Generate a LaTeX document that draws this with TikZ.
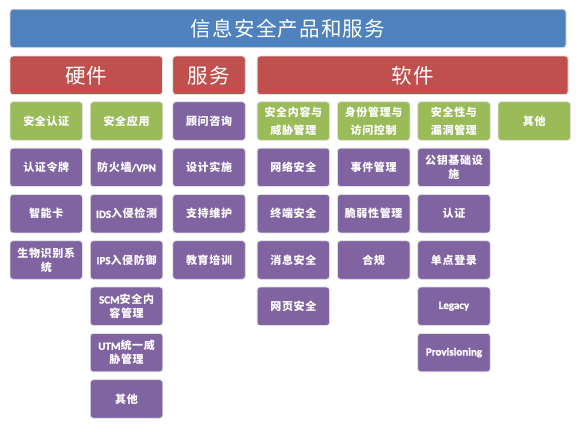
\documentclass[tikz,border=0pt]{standalone}
\usepackage{fontspec}
\setmainfont{Noto Sans CJK SC}[LetterSpace=6]
\newfontfamily\lat{Carlito}[BoldFeatures={FakeBold=1.2}]
\usetikzlibrary{positioning}

\definecolor{titleblue}{HTML}{4F81BD}
\definecolor{catred}{HTML}{C0504D}
\definecolor{headgreen}{HTML}{9BBB59}
\definecolor{itempurple}{HTML}{8064A2}

\newcommand{\en}[1]{{\lat\bfseries #1}}

\begin{document}
\begin{tikzpicture}[
    x=1pt, y=1pt,
    box/.style={rounded corners=3pt, draw=black!12, line width=0.8pt,
      text=white, align=center, inner sep=1pt,
      minimum width=72.5pt, minimum height=38.5pt},
    titlebox/.style={box, fill=titleblue, minimum width=556pt,
      font=\fontsize{20.5}{24}\selectfont},
    catbox/.style={box, fill=catred, font=\fontsize{20.5}{24}\selectfont},
    headbox/.style={box, fill=headgreen,
      font=\bfseries\fontsize{11}{18}\selectfont},
    itembox/.style={box, fill=itempurple,
      font=\bfseries\fontsize{11}{14}\selectfont}
  ]
  \useasboundingbox (0,0) rectangle (577,-430);
  \node[titlebox] (title) at (288,-28.5) {信息安全产品和服务};
  % categories
  \node[catbox, minimum width=152.5pt, below right=7.5pt and 0pt of title.south west] (hw) {硬件};
  \node[catbox, right=9.5pt of hw] (svc) {服务};
  \node[catbox, minimum width=311pt, right=11pt of svc] (sw) {软件};
  % hardware
  \node[headbox, below right=6.5pt and 0pt of hw.south west] (auth) {安全认证};
  \node[headbox, right=7pt of auth] (app) {安全应用};
  \node[itembox, below=7pt of auth] (token) {认证令牌};
  \node[itembox, below=7pt of token] (card) {智能卡};
  \node[itembox, below=7pt of card] (bio) {生物识别系\\统};
  \node[itembox, below=7pt of app] (fw) {防火墙\en{/VPN}};
  \node[itembox, below=7pt of fw] (ids) {\en{IDS}入侵检测};
  \node[itembox, below=7pt of ids] (ips) {\en{IPS}入侵防御};
  \node[itembox, below=7pt of ips] (scm) {\en{SCM}安全内\\容管理};
  \node[itembox, below=7pt of scm] (utm) {\en{UTM}统一威\\胁管理};
  \node[itembox, below=7pt of utm] (hwother) {其他};
  % services
  \node[itembox, below right=6.5pt and 0pt of svc.south west] (consult) {顾问咨询};
  \node[itembox, below=7pt of consult] (design) {设计实施};
  \node[itembox, below=7pt of design] (support) {支持维护};
  \node[itembox, below=7pt of support] (train) {教育培训};
  % software
  \node[headbox, below right=6.5pt and 0pt of sw.south west] (content) {安全内容与\\威胁管理};
  \node[headbox, right=7pt of content] (idm) {身份管理与\\访问控制};
  \node[headbox, right=7pt of idm] (vuln) {安全性与\\漏洞管理};
  \node[headbox, right=7pt of vuln] (swother) {其他};
  \node[itembox, below=7pt of content] (net) {网络安全};
  \node[itembox, below=7pt of net] (endpoint) {终端安全};
  \node[itembox, below=7pt of endpoint] (msg) {消息安全};
  \node[itembox, below=7pt of msg] (web) {网页安全};
  \node[itembox, below=7pt of idm] (event) {事件管理};
  \node[itembox, below=7pt of event] (weak) {脆弱性管理};
  \node[itembox, below=7pt of weak] (comply) {合规};
  \node[itembox, below=7pt of vuln] (pki) {公钥基础设\\施};
  \node[itembox, below=7pt of pki] (swauth) {认证};
  \node[itembox, below=7pt of swauth] (sso) {单点登录};
  \node[itembox, below=7pt of sso] (legacy) {\en{Legacy}};
  \node[itembox, below=7pt of legacy] (prov) {\en{Provisioning}};
\end{tikzpicture}
\end{document}
